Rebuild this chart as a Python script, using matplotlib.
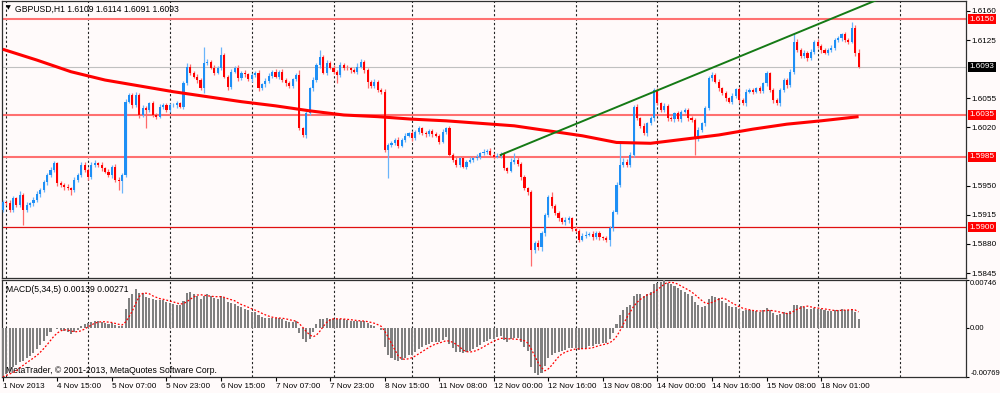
import numpy as np
import matplotlib
matplotlib.use("Agg")
import matplotlib.pyplot as plt
import matplotlib.transforms as mtrans
import pandas as pd

# ---------------- data ----------------
header_text = "GBPUSD,H1 1.6109 1.6114 1.6091 1.6093"
macd_text = "MACD(5,34,5) 0.00139 0.00271"
copyright_text = "MetaTrader, \u00a9 2001-2013, MetaQuotes Software Corp."

base_price = 1.5800
open0_pips = 121
close_pips = [
    130, 129, 121, 135, 127, 139, 121, 127, 129, 133, 140, 145,
    154, 163, 169, 177, 153, 151, 148, 147, 145, 157, 163, 175,
    169, 160, 175, 177, 175, 171, 167, 163, 173, 157, 156, 163,
    251, 259, 247, 259, 235, 243, 241, 249, 235, 233, 245, 247,
    241, 247, 247, 249, 245, 273, 293, 286, 281, 277, 267, 298,
    299, 292, 286, 292, 307, 281, 269, 287, 292, 279, 286, 284,
    278, 283, 286, 267, 272, 276, 282, 287, 281, 287, 277, 273,
    270, 278, 283, 219, 211, 237, 267, 277, 295, 305, 286, 298,
    292, 287, 283, 295, 292, 291, 289, 287, 293, 299, 289, 275,
    270, 275, 265, 263, 193, 199, 201, 205, 198, 205, 210, 213,
    207, 215, 219, 213, 212, 216, 212, 210, 203, 215, 219, 187,
    181, 175, 183, 173, 179, 181, 183, 185, 189, 191, 192, 187,
    185, 186, 188, 171, 168, 179, 181, 176, 160, 147, 142, 73,
    81, 76, 93, 115, 136, 126, 117, 111, 106, 109, 111, 98,
    96, 85, 90, 91, 92, 88, 93, 88, 87, 85, 99, 118,
    151, 175, 179, 175, 187, 245, 231, 222, 213, 225, 231, 265,
    249, 241, 246, 231, 230, 237, 230, 239, 241, 231, 229, 207,
    217, 225, 243, 279, 283, 275, 267, 261, 255, 251, 258, 266,
    253, 249, 263, 265, 263, 267, 264, 273, 285, 265, 253, 249,
    265, 277, 271, 287, 323, 313, 306, 310, 303, 311, 323, 318,
    313, 310, 313, 316, 325, 327, 332, 325, 323, 340, 309, 293,
]
upper_wick_pips = [
    3, 2, 4, 3, 2, 5, 2, 3, 2, 3, 4, 2,
    3, 2, 4, 3, 2, 3, 2, 4, 2, 3, 2, 4,
    3, 2, 3, 4, 2, 3, 2, 3, 2, 3, 4, 2,
    3, 2, 3, 4, 2, 4, 3, 2, 3, 2, 3, 2,
    3, 2, 2, 3, 2, 3, 4, 3, 2, 3, 2, 19,
    3, 2, 3, 2, 10, 3, 2, 3, 2, 3, 2, 3,
    2, 3, 2, 3, 2, 3, 4, 2, 3, 2, 3, 2,
    3, 2, 3, 6, 2, 3, 2, 4, 3, 8, 2, 3,
    2, 3, 2, 4, 2, 3, 2, 3, 4, 3, 2, 3,
    2, 3, 2, 3, 3, 2, 3, 2, 3, 2, 3, 2,
    3, 2, 3, 2, 3, 2, 2, 3, 2, 3, 2, 3,
    2, 3, 2, 3, 2, 3, 2, 3, 2, 3, 2, 3,
    2, 3, 2, 3, 2, 4, 8, 3, 2, 3, 2, 3,
    3, 4, 3, 2, 3, 6, 2, 3, 2, 4, 3, 2,
    3, 2, 3, 4, 2, 3, 2, 3, 2, 3, 2, 3,
    3, 26, 4, 3, 3, 2, 3, 2, 3, 2, 3, 2,
    3, 2, 3, 2, 3, 2, 3, 2, 3, 2, 3, 2,
    3, 2, 3, 3, 4, 2, 3, 2, 3, 2, 3, 2,
    3, 2, 3, 2, 3, 2, 3, 2, 3, 2, 3, 2,
    3, 2, 3, 3, 11, 3, 2, 3, 2, 3, 2, 3,
    2, 3, 2, 3, 2, 3, 2, 3, 2, 7, 3, 5,
]
lower_wick_pips = [
    3, 2, 3, 2, 3, 2, 18, 3, 2, 3, 2, 3,
    2, 3, 2, 3, 3, 2, 3, 2, 6, 3, 2, 3,
    2, 3, 2, 3, 2, 3, 2, 3, 4, 3, 11, 15,
    3, 2, 3, 2, 4, 3, 22, 3, 2, 3, 2, 3,
    2, 3, 2, 3, 2, 3, 2, 3, 2, 3, 2, 6,
    3, 2, 3, 2, 3, 2, 4, 3, 2, 3, 2, 3,
    2, 3, 2, 3, 2, 3, 2, 3, 2, 3, 2, 3,
    2, 3, 2, 2, 3, 4, 2, 3, 2, 3, 2, 3,
    2, 3, 10, 2, 3, 2, 3, 2, 3, 2, 3, 7,
    2, 3, 2, 3, 3, 34, 3, 2, 3, 2, 3, 2,
    3, 2, 3, 2, 3, 2, 3, 2, 3, 2, 3, 2,
    3, 2, 3, 2, 3, 2, 3, 2, 3, 2, 3, 2,
    3, 2, 3, 2, 3, 2, 3, 2, 3, 2, 3, 20,
    4, 3, 4, 3, 2, 3, 2, 3, 2, 3, 4, 3,
    2, 3, 2, 3, 2, 3, 2, 3, 2, 3, 8, 3,
    2, 3, 2, 3, 2, 3, 2, 3, 2, 3, 2, 3,
    2, 3, 2, 3, 2, 3, 2, 3, 2, 3, 2, 20,
    3, 2, 3, 2, 3, 2, 3, 2, 3, 2, 3, 2,
    3, 2, 3, 2, 3, 2, 3, 2, 3, 2, 3, 2,
    3, 2, 3, 2, 3, 2, 3, 2, 3, 2, 3, 2,
    3, 2, 3, 2, 3, 2, 3, 2, 3, 2, 3, 2,
]
# MACD main line, units of 1e-5
macd_main = [
    -769, -720, -680, -620, -580, -530, -520, -480, -440, -390, -330, -270,
    -200, -130, -60, 0, -20, -30, -50, -70, -90, -60, -40, 30,
    60, 80, 90, 100, 110, 90, 80, 60, 70, 40, 20, 30,
    290, 460, 520, 610, 550, 540, 480, 470, 450, 440, 440, 430,
    400, 380, 370, 360, 350, 420, 540, 560, 530, 500, 450, 500,
    520, 500, 460, 450, 500, 460, 400, 380, 370, 340, 320, 300,
    270, 250, 240, 200, 170, 150, 150, 160, 150, 150, 130, 110,
    90, 90, 100, -80, -170, -230, -170, -60, 60, 130, 140, 150,
    140, 140, 130, 140, 130, 120, 110, 100, 100, 110, 100, 70,
    40, 30, 0, -30, -300, -420, -480, -500, -520, -500, -470, -430,
    -420, -380, -330, -300, -270, -250, -230, -220, -220, -190, -150, -260,
    -320, -380, -380, -400, -380, -360, -330, -300, -270, -230, -200, -180,
    -170, -150, -130, -190, -220, -180, -160, -160, -220, -300, -360, -620,
    -700, -740, -700, -600, -470, -420, -400, -380, -370, -340, -310, -320,
    -320, -350, -330, -310, -290, -280, -260, -250, -240, -240, -180, -80,
    60, 200, 280, 320, 360, 500, 520, 520, 500, 530, 560, 680,
    700, 720, 746, 700, 680, 660, 620, 590, 560, 530, 500, 410,
    360, 330, 340, 450, 500, 480, 460, 420, 380, 340, 320, 320,
    290, 260, 270, 270, 260, 260, 250, 270, 310, 270, 230, 200,
    210, 240, 230, 260, 360, 360, 340, 330, 300, 300, 310, 300,
    290, 270, 260, 260, 270, 280, 290, 280, 270, 300, 250, 139,
]
ma_idx = [0, 10, 20, 30, 40, 50, 60, 70, 80, 90, 100, 110, 120, 130,
          140, 150, 160, 170, 180, 190, 200, 210, 220, 230, 240, 251]
ma_pips = [314, 301, 287, 277, 270, 263, 257, 251, 246, 240, 235, 233, 230, 228,
           225, 222, 216, 210, 202, 201, 206, 211, 218, 224, 228, 233]

tick_idx = [0, 16, 32, 48, 64, 80, 96, 112, 128, 144, 160, 176, 192, 208, 224, 240]
tick_labels = ["1 Nov 2013", "4 Nov 15:00", "5 Nov 07:00", "5 Nov 23:00", "6 Nov 15:00",
               "7 Nov 07:00", "7 Nov 23:00", "8 Nov 15:00", "11 Nov 08:00", "12 Nov 00:00",
               "12 Nov 16:00", "13 Nov 08:00", "14 Nov 00:00", "14 Nov 16:00",
               "15 Nov 08:00", "18 Nov 01:00"]
day_idx = [1, 25, 49, 73, 97, 120, 144, 168, 192, 216, 239, 263]

level_lines = [1.6150, 1.6035, 1.5985]
support_line = 1.5900
bid_price = 1.6093
trend_idx = [146, 242]
trend_price = [1.5987, 1.6149]
price_ticks = [1.6160, 1.6125, 1.6055, 1.6020, 1.5950, 1.5915, 1.5880, 1.5845]
macd_ticks = [0.00746, 0.0, -0.00769]
macd_tick_labels = ["0.00746", "0.00", "-0.00769"]

# ---------------- styling ----------------
BG = "#FFFAFA"
BULL = "#1E8FF5"
BULL_W = "#6AB4FA"
BEAR = "#FF0000"
BEAR_W = "#FF6A6A"
FONT = ["Liberation Sans", "DejaVu Sans"]
plt.rcParams["font.family"] = FONT
FS = 5.9

W, H = 1000, 393
def rect(x0, y0, x1, y1):
    return [x0 / W, 1 - y1 / H, (x1 - x0) / W, (y1 - y0) / H]

fig = plt.figure(figsize=(W / 100, H / 100), dpi=100, facecolor=BG)
ax = fig.add_axes(rect(2, 1, 966, 278), facecolor=BG)
axm = fig.add_axes(rect(2, 280, 966, 377), facecolor=BG, sharex=ax)

n = len(close_pips)
idx = np.arange(n)
c = base_price + np.array(close_pips) / 1e4
o = np.r_[base_price + open0_pips / 1e4, c[:-1]]
hi = np.maximum(o, c) + np.array(upper_wick_pips) / 1e4
lo = np.minimum(o, c) - np.array(lower_wick_pips) / 1e4
bull = c >= o

for a in (ax, axm):
    for d in day_idx:
        a.axvline(d, color="#222222", lw=0.8, ls=(0, (2, 2)), zorder=1)

# horizontal levels
for lv in level_lines:
    ax.axhline(lv, color="#FF7070", lw=1.5, zorder=2)
ax.axhline(support_line, color="#E01010", lw=0.9, zorder=2)
ax.axhline(bid_price, color="#C0C0C0", lw=0.8, zorder=2)

# candles
ax.vlines(idx, lo, hi, colors=np.where(bull, BULL_W, BEAR_W), lw=0.9, zorder=3)
ax.bar(idx, np.maximum(np.abs(c - o), 0.00005), bottom=np.minimum(o, c), width=0.62,
       color=np.where(bull, BULL, BEAR), linewidth=0, zorder=4)

# moving average
ax.plot(ma_idx, base_price + np.array(ma_pips) / 1e4, color="#FF0000", lw=2.2,
        solid_capstyle="butt", zorder=5)

# trend line (ray)
slope = (trend_price[1] - trend_price[0]) / (trend_idx[1] - trend_idx[0])
tx = np.array([trend_idx[0], 300])
ax.plot(tx, trend_price[0] + slope * (tx - trend_idx[0]), color="#157A15", lw=1.4, zorder=6)

ax.set_xlim(-0.23, 282.5)
ax.set_ylim(1.58391, 1.61720)

# right price axis
ax.yaxis.tick_right()
ax.set_yticks(price_ticks)
ax.set_yticklabels([f"{p:.4f}" for p in price_ticks])
ax.tick_params(axis="y", direction="out", length=3, width=0.8, pad=1.2,
               labelsize=FS, colors="#000000")
ax.tick_params(axis="x", bottom=False, labelbottom=False)
blend = mtrans.blended_transform_factory(ax.transAxes, ax.transData)
for lv in level_lines + [support_line]:
    ax.text(1.0035, lv, f"{lv:.4f}", transform=blend, ha="left", va="center",
            color="white", fontsize=FS, clip_on=False,
            bbox=dict(boxstyle="square,pad=0.18", fc="#FF0000", ec="none"))
ax.text(1.0035, bid_price, f"{bid_price:.4f}", transform=blend, ha="left", va="center",
        color="white", fontsize=FS, clip_on=False,
        bbox=dict(boxstyle="square,pad=0.18", fc="#000000", ec="none"))

ax.text(0.004, 0.985, "\u25bc", transform=ax.transAxes, fontsize=4.5, va="top",
        ha="left", family=["DejaVu Sans"])
ax.text(0.014, 0.988, header_text, transform=ax.transAxes, fontsize=FS + 0.3,
        va="top", ha="left")

# MACD
mv = np.array(macd_main) / 1e5
sig = pd.Series(mv).rolling(5, min_periods=1).mean().to_numpy()
axm.bar(idx, mv, width=0.6, color="#808080", linewidth=0, zorder=3)
axm.plot(idx, sig, color="#FF0000", lw=0.9, ls=(0, (1.5, 1.5)), zorder=4)
axm.set_ylim(-0.00769, 0.00746)
axm.yaxis.tick_right()
axm.set_yticks(macd_ticks)
axm.set_yticklabels(macd_tick_labels)
axm.tick_params(axis="y", direction="out", length=2, width=0.8, pad=1.0, labelsize=5.5)
ylabs = axm.get_yticklabels()
ylabs[0].set_va("top")
ylabs[2].set_va("bottom")
axm.text(0.004, 0.95, macd_text, transform=axm.transAxes, fontsize=FS + 0.3,
         va="top", ha="left")
axm.text(0.004, 0.02, copyright_text, transform=axm.transAxes, fontsize=FS + 0.3,
         va="bottom", ha="left")

axm.set_xticks(tick_idx)
axm.set_xticklabels(tick_labels)
axm.tick_params(axis="x", direction="out", length=3, width=0.8, pad=1, labelsize=FS)
for lb in axm.get_xticklabels():
    lb.set_ha("left")

for a in (ax, axm):
    for s in a.spines.values():
        s.set_color("#303030")
        s.set_linewidth(0.9)

fig.savefig("out.png", dpi=100, facecolor=BG)
